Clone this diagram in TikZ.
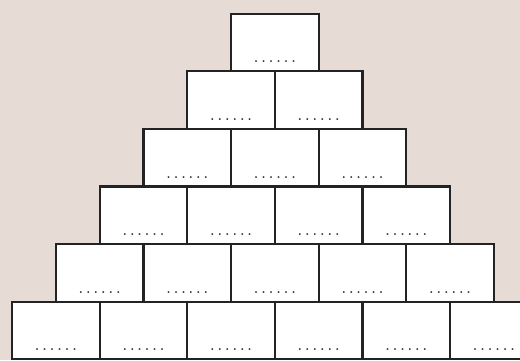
\documentclass[tikz,border=0pt]{standalone}
\definecolor{paper}{RGB}{231,219,214}
\definecolor{edge}{RGB}{35,35,38}
\tikzset{
  brick/.style={draw=edge, line width=2.2pt, fill=white, rectangle, inner sep=0pt,
    minimum width=87.6pt, minimum height=57.6pt, anchor=north west},
  dotrow/.style={font=\fontsize{13}{13}\selectfont\bfseries, inner sep=0pt, anchor=base, text=black!85}
}
\begin{document}
\begin{tikzpicture}[x=1pt,y=-1pt]
\useasboundingbox (0,0) rectangle (520,360);
\clip (0,0) rectangle (520,360);
\fill[paper] (0,0) rectangle (520,360);
\foreach \r in {0,...,5}{
  \foreach \c in {0,...,\r}{
    \pgfmathsetmacro{\xx}{230-43.8*\r+87.6*\c}
    \pgfmathsetmacro{\yy}{12.5+57.6*\r}
    \node[brick] (b\r\c) at (\xx,\yy) {};
    \node[dotrow] (d\r\c) at ([yshift=9.5pt]b\r\c.south) {.\kern3.4pt.\kern3.4pt.\kern3.4pt.\kern3.4pt.\kern3.4pt.};
  }
}
\end{tikzpicture}
\end{document}
